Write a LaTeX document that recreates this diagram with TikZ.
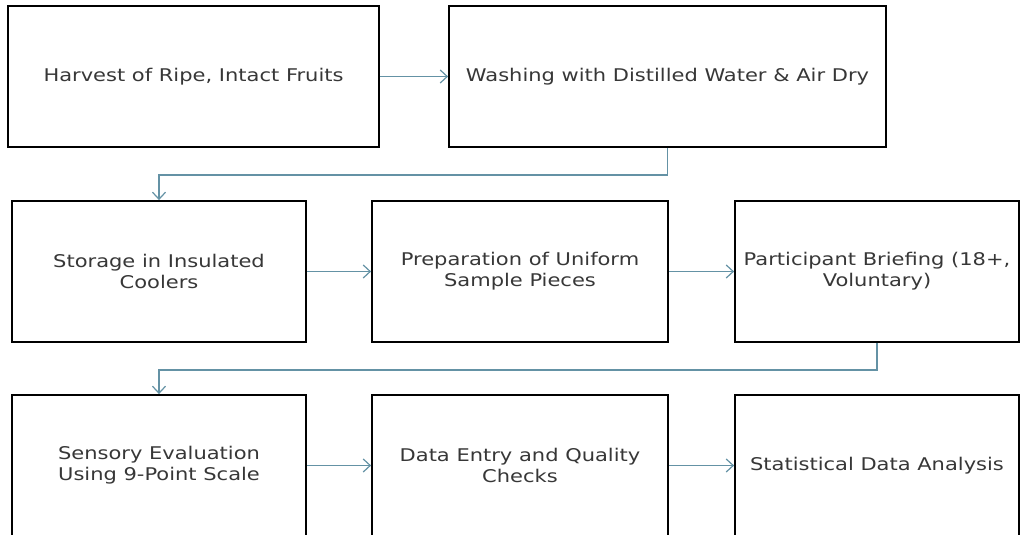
\documentclass[tikz,border=0pt]{standalone}
\usepackage{fontspec}
\setmainfont{DejaVu Sans}
\newfontfamily\stagefont[FakeStretch=1.2]{DejaVu Sans}
\usetikzlibrary{arrows.meta}
\definecolor{linkblue}{RGB}{100,146,165}
\definecolor{textgray}{RGB}{55,55,55}
\tikzset{
    stage/.style={draw, line width=1.8pt, align=center, minimum height=141pt, inner sep=0pt, text=textgray, font=\stagefont\fontsize{17.5}{21}\selectfont},
    link/.style={->, draw=linkblue, line width=1.2pt, >={Straight Barb[length=7pt,width=13pt]}}
}
\begin{document}
\begin{tikzpicture}[x=1pt, y=-1pt]
    \useasboundingbox[fill=white] (0,0) rectangle (1021,535);
    % first row
    \node[stage, minimum width=371pt] (A) at (193.5,76.5) {Harvest of Ripe, Intact Fruits};
    \node[stage, minimum width=437pt] (B) at (667.5,76.5) {Washing with Distilled Water \& Air Dry};
    \draw[link] (A) -- (B);

    % second row
    \node[stage, minimum width=294pt] (C) at (159,271.5) {Storage in Insulated\\ Coolers};
    \node[stage, minimum width=296pt] (D) at (520,271.5) {Preparation of Uniform\\ Sample Pieces};
    \node[stage, minimum width=284pt] (E) at (877,271.5) {Participant Briefing (18+,\\ Voluntary)};
    \draw[link] (B.south) -- ++(0,27) -| (C.north);
    \draw[link] (C) -- (D);
    \draw[link] (D) -- (E);

    % third row
    \node[stage, minimum width=294pt] (F) at (159,465.5) {Sensory Evaluation\\ Using 9-Point Scale};
    \node[stage, minimum width=296pt] (G) at (520,465.5) {Data Entry and Quality\\ Checks};
    \node[stage, minimum width=284pt] (H) at (877,465.5) {Statistical Data Analysis};
    \draw[link] (E.south) -- ++(0,27) -| (F.north);
    \draw[link] (F) -- (G);
    \draw[link] (G) -- (H);
\end{tikzpicture}
\end{document}
